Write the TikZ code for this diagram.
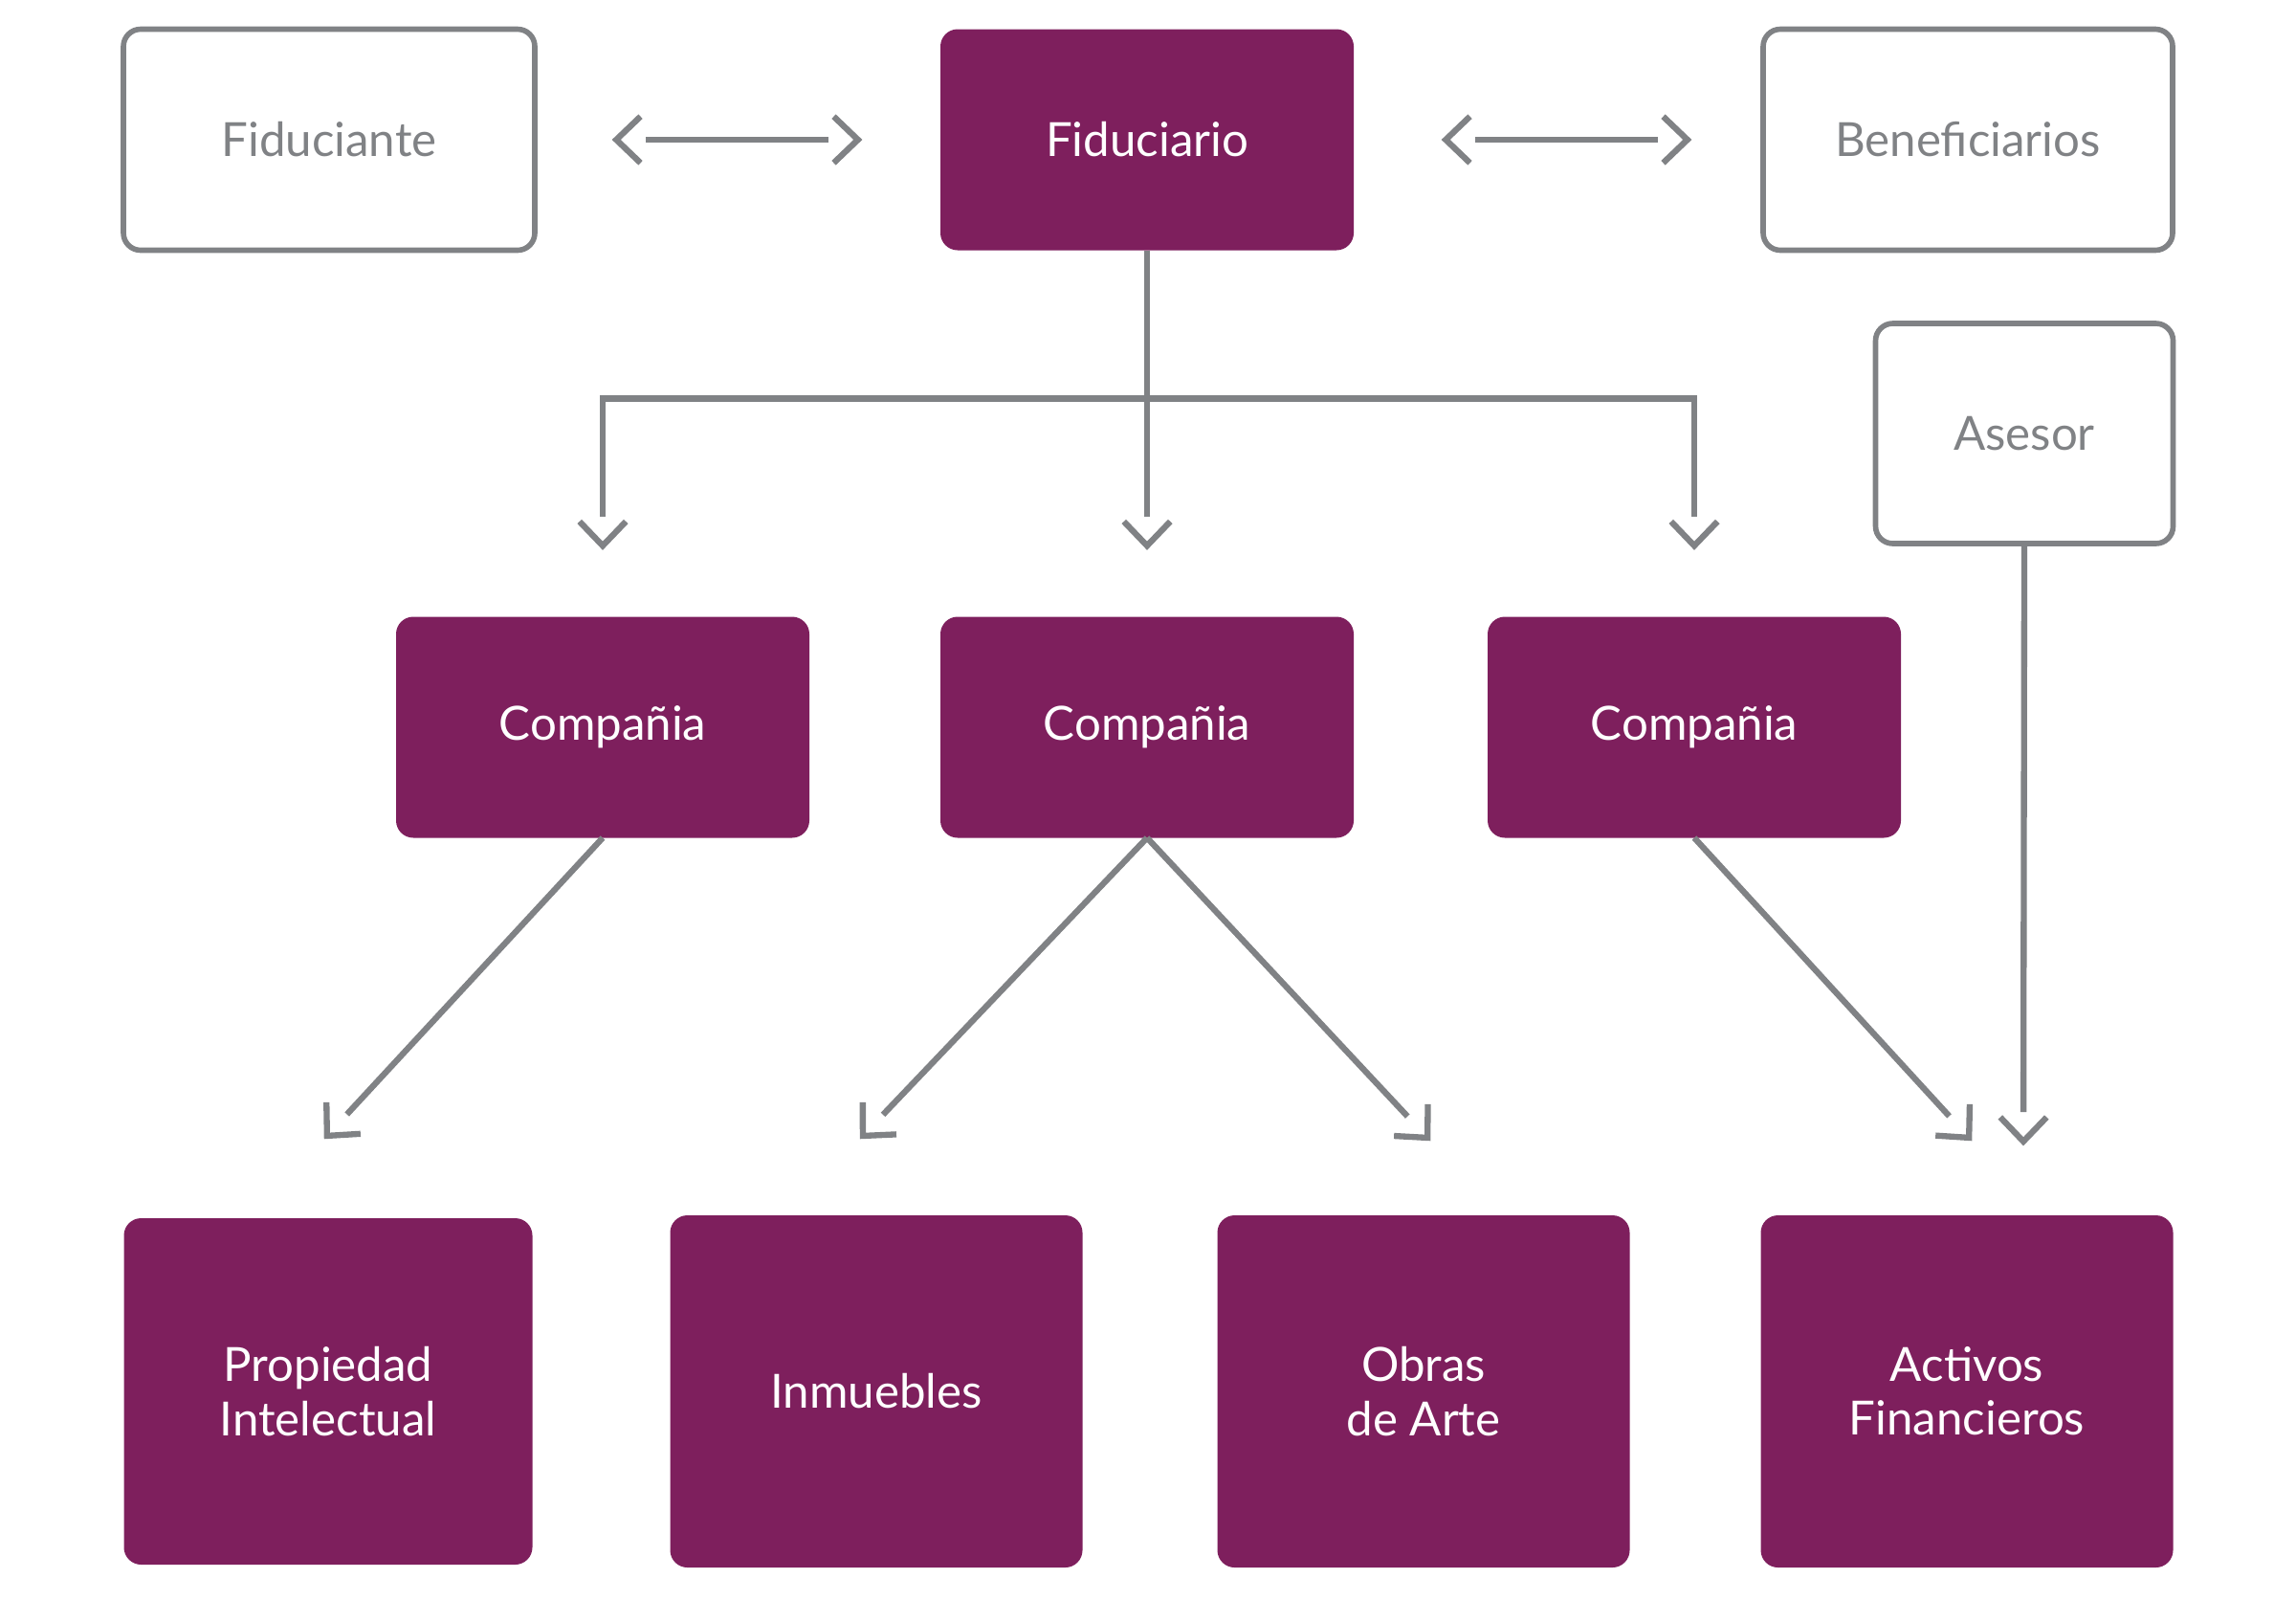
\documentclass[tikz,border=0pt]{standalone}
\usepackage{fontspec}
\setmainfont{Lato}
\usepackage{tikz}
\definecolor{plum}{RGB}{126, 31, 93}
\definecolor{gray55}{RGB}{128, 130, 133}

% open chevron, set off from the end of the line
\pgfdeclarearrow{
  name = Chevron,
  setup code = {
    \pgfarrowssettipend{1.2pt}
    \pgfarrowssetlineend{-8.7pt}
    \pgfarrowssetbackend{-7.2pt}
  },
  drawing code = {
    \pgfpathmoveto{\pgfqpoint{-7.2pt}{6.9pt}}
    \pgfpathlineto{\pgfqpoint{0pt}{0pt}}
    \pgfpathlineto{\pgfqpoint{-7.2pt}{-6.9pt}}
    \pgfusepathqstroke
  }
}

\begin{document}
\begin{tikzpicture}[scale=1.0,
  outline box/.style={draw=gray55, line width=1.6pt, rounded corners=0.18cm, text=gray55,
    inner sep=0pt, outer sep=0pt, minimum width=4.30cm, minimum height=2.31cm, align=center},
  plum box/.style={fill=plum, rounded corners=0.18cm, text=white,
    inner sep=0pt, outer sep=0pt, minimum width=4.32cm, minimum height=2.31cm, align=center},
  asset box/.style={plum box, minimum width=4.31cm, minimum height=3.68cm},
  link/.style={draw=gray55, line width=1.8pt},
  font=\fontsize{14}{16}\selectfont]

  \useasboundingbox (0, 0) rectangle (24, -16.71);

  % top row
  \node[outline box] (fiduciante) at (3.44, -1.46) {Fiduciante};
  \node[plum box] (fiduciario) at (11.99, -1.46) {Fiduciario};
  \node[outline box, minimum width=4.28cm] (beneficiarios) at (20.57, -1.46) {Beneficiarios};
  \node[outline box, minimum width=3.11cm, minimum height=2.30cm] (asesor) at (21.16, -4.53) {Asesor};

  \draw[link, Chevron-Chevron, shorten <=0.81cm, shorten >=0.82cm] (fiduciante) -- (fiduciario);
  \draw[link, Chevron-Chevron, shorten <=0.92cm, shorten >=0.75cm] (fiduciario) -- (beneficiarios);

  % companies
  \node[plum box] (comp1) at (6.30, -7.60) {Compañia};
  \node[plum box] (comp2) at (11.99, -7.60) {Compañia};
  \node[plum box] (comp3) at (17.71, -7.60) {Compañia};

  \coordinate (c1) at ([yshift=0.70cm]comp1.north);
  \coordinate (c2) at ([yshift=0.70cm]comp2.north);
  \coordinate (c3) at ([yshift=0.70cm]comp3.north);

  \draw[link, -Chevron] (fiduciario.south) -- ++(0, -1.55) -| (c1);
  \draw[link, -Chevron] (fiduciario.south) -- (c2);
  \draw[link, -Chevron] (fiduciario.south) -- ++(0, -1.55) -| (c3);

  % assets
  \node[asset box, minimum width=4.27cm, minimum height=3.62cm] (propiedad) at (3.43, -14.54) {Propiedad\\Intelectual};
  \node[asset box] (inmuebles) at (9.16, -14.54) {Inmuebles};
  \node[asset box] (obras) at (14.88, -14.54) {Obras\\de Arte};
  \node[asset box] (activos) at (20.56, -14.54) {Activos\\Financieros};

  \coordinate (p1) at (3.39, -11.90);
  \coordinate (i1) at (8.99, -11.90);
  \coordinate (o1) at (14.95, -11.92);
  \coordinate (a1) at (20.61, -11.92);
  \coordinate (a2) at (21.15, -11.97);

  \draw[link, -Chevron] (comp1.south) -- (p1);
  \draw[link, -Chevron] (comp2.south) -- (i1);
  \draw[link, -Chevron] (comp2.south) -- (o1);
  \draw[link, -Chevron] (comp3.south) -- (a1);
  \draw[link, -Chevron] (asesor.south) -- (a2);

\end{tikzpicture}
\end{document}
